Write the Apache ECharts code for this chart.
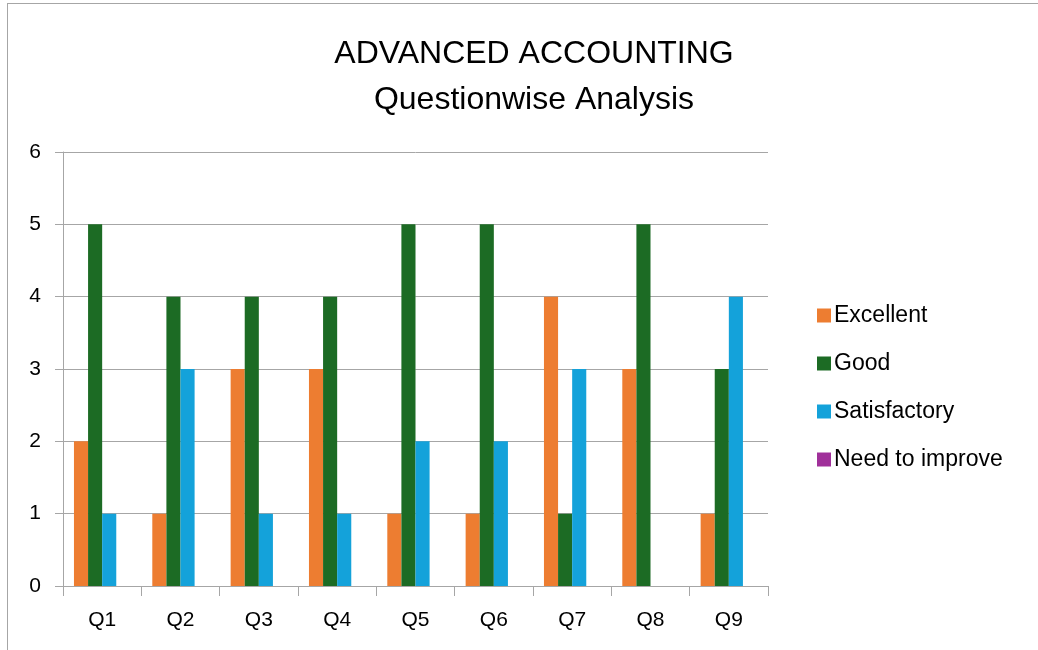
<!DOCTYPE html>
<html>
<head>
<meta charset="utf-8">
<script src="https://cdn.jsdelivr.net/npm/echarts@6/dist/echarts.min.js"></script>
<style>
  html, body { margin: 0; padding: 0; background: #fff; }
  #frame { position: absolute; left: 7px; top: 3px; width: 1040px; height: 660px; border: 1px solid #a6a6a6; box-sizing: border-box; }
  #chart { position: absolute; left: 0; top: 0; width: 1038px; height: 650px; }
</style>
</head>
<body>
<div id="frame"></div>
<div id="chart"></div>
<script>
const categories = ['Q1', 'Q2', 'Q3', 'Q4', 'Q5', 'Q6', 'Q7', 'Q8', 'Q9'];
const excellent = [2, 1, 3, 3, 1, 1, 4, 3, 1];
const good = [5, 4, 4, 4, 5, 5, 1, 5, 3];
const satisfactory = [1, 3, 1, 1, 2, 2, 3, 0, 4];
const needToImprove = [0, 0, 0, 0, 0, 0, 0, 0, 0];

const font = 'Liberation Sans, Arial, sans-serif';

const chart = echarts.init(document.getElementById('chart'));
chart.setOption({
    animation: false,
    title: {
        text: 'ADVANCED ACCOUNTING\nQuestionwise Analysis',
        left: 529,
        top: 26,
        textAlign: 'center',
        textStyle: {
            fontFamily: font,
            fontSize: 32,
            fontWeight: 'normal',
            color: '#000',
            lineHeight: 46
        }
    },
    legend: {
        orient: 'vertical',
        left: 812,
        top: 299,
        itemWidth: 14,
        itemHeight: 14,
        itemGap: 25,
        icon: 'rect',
        textStyle: { fontFamily: font, fontSize: 23, color: '#000', padding: [0, 0, 0, -2] },
        data: ['Excellent', 'Good', 'Satisfactory', 'Need to improve']
    },
    grid: {
        left: 63,
        right: 270,
        top: 152,
        bottom: 64
    },
    xAxis: {
        type: 'category',
        data: categories,
        axisLine: { lineStyle: { color: '#a6a6a6', width: 1 } },
        axisTick: { show: true, length: 10, lineStyle: { color: '#a6a6a6' } },
        axisLabel: { fontFamily: font, fontSize: 21, color: '#000', margin: 24 }
    },
    yAxis: {
        type: 'value',
        min: 0,
        max: 6,
        interval: 1,
        axisLine: { show: true, lineStyle: { color: '#a6a6a6', width: 1 } },
        axisTick: { show: true, length: 8, lineStyle: { color: '#a6a6a6' } },
        splitLine: { lineStyle: { color: '#a6a6a6', width: 1 } },
        axisLabel: { fontFamily: font, fontSize: 21, color: '#000', margin: 22 }
    },
    series: [
        { name: 'Excellent', type: 'bar', data: excellent, itemStyle: { color: '#ED7D31' }, barGap: '0%', barCategoryGap: '28%' },
        { name: 'Good', type: 'bar', data: good, itemStyle: { color: '#1C6B24' } },
        { name: 'Satisfactory', type: 'bar', data: satisfactory, itemStyle: { color: '#14A2DA' } },
        { name: 'Need to improve', type: 'bar', data: needToImprove, itemStyle: { color: '#A0309A' } }
    ]
});
</script>
</body>
</html>
